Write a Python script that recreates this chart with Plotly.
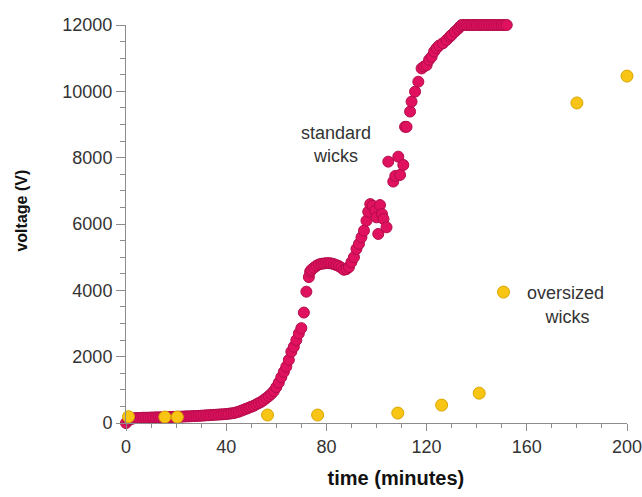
import plotly.graph_objects as go

# standard wicks (time in minutes, voltage in V)
std_time = [0, 1, 2, 3, 4, 5, 6, 7, 8, 9, 10, 11, 12, 13, 14, 15, 16, 17, 18, 19,
            20, 21, 22, 23, 24, 25, 26, 27, 28, 29, 30, 31, 32, 33, 34, 35, 36, 37, 38, 39,
            40, 41, 42, 43, 44, 45, 46, 47, 48, 49, 50, 51, 52, 53, 54, 55, 56, 57, 58, 59,
            60, 61, 62, 63, 64, 65, 66, 67, 68, 69, 70, 71, 72, 73, 73.5, 74, 75, 76, 77, 78,
            79, 80, 81, 82, 83, 84, 85, 86, 87, 88, 89, 90, 91, 92, 93, 94, 95, 96, 96.7, 97.5,
            98.5, 99.5, 100, 100.7, 101.4, 102.2, 102.8, 104, 104.7, 106.7, 107.5, 108.7, 109.4, 110.7,
            111.4, 112, 113.4, 114, 115.4, 116.7, 118, 119, 120, 121, 122, 123, 124, 125, 126.5,
            128, 129.3, 130, 131.3, 132.5, 133.3, 134, 135, 136, 137, 138, 139, 140, 141, 142,
            143, 144, 145, 146, 147, 148, 149, 150, 151, 152]
std_voltage = [0, 80, 120, 140, 150, 150, 155, 160, 160, 160, 165, 165, 170, 170, 170, 175, 175, 180, 180, 185,
               185, 190, 190, 195, 200, 200, 205, 210, 210, 215, 220, 225, 230, 235, 240, 245, 250, 255, 260, 265,
               270, 280, 290, 300, 320, 340, 370, 400, 430, 460, 490, 520, 560, 600, 640, 690, 750, 810, 880, 960,
               1080, 1220, 1380, 1540, 1700, 1900, 2150, 2300, 2500, 2700, 2860, 3330, 3960, 4400, 4560, 4620, 4680, 4740, 4780, 4800,
               4810, 4820, 4820, 4810, 4790, 4760, 4730, 4680, 4620, 4640, 4700, 4850, 5000, 5250, 5400, 5600, 5800, 6100, 6370, 6600,
               6550, 6400, 6200, 5700, 6570, 6300, 6150, 5900, 7880, 7280, 7450, 8030, 7480, 7780,
               8930, 8930, 9390, 9690, 9990, 10290, 10690, 10750, 10790, 10950, 11040, 11200, 11300, 11380, 11450,
               11550, 11650, 11700, 11800, 11880, 11950, 12000, 12000, 12000, 12000, 12000, 12000, 12000, 12000, 12000,
               12000, 12000, 12000, 12000, 12000, 12000, 12000, 12000, 12000, 12000]

# oversized wicks
over_time = [1, 15.5, 20.5, 56.5, 76.5, 108.5, 126, 141, 180, 200]
over_voltage = [190, 180, 180, 240, 240, 300, 540, 900, 9650, 10460]

x_ticks = [0, 40, 80, 120, 160, 200]
y_ticks = [0, 2000, 4000, 6000, 8000, 10000, 12000]

FONT = "Liberation Sans, Arial, sans-serif"
NB = "\u00a0"

fig = go.Figure()
fig.add_trace(go.Scatter(
    x=std_time, y=std_voltage, mode="markers", name="standard wicks",
    showlegend=False, cliponaxis=False,
    marker=dict(size=11, color="#E0115F", line=dict(color="#B30C4A", width=1)),
))
fig.add_trace(go.Scatter(
    x=over_time, y=over_voltage, mode="markers",
    name="oversized<br>" + NB * 3 + "\u2009wicks",
    showlegend=True, cliponaxis=False,
    marker=dict(size=12, color="#F8C515", line=dict(color="#D9A500", width=1)),
))

axis_common = dict(
    showgrid=False, zeroline=False, showline=True, linecolor="#8c8c8c", linewidth=1,
    ticks="outside", tickcolor="#8c8c8c", tickwidth=1, tickformat="d",
    ticklabeloverflow="allow",
    tickfont=dict(family=FONT, size=18, color="#333333"),
)

fig.update_xaxes(
    range=[0, 200], tickvals=x_ticks, ticklen=7, **axis_common,
    minor=dict(dtick=10, ticks="outside", ticklen=4, tickcolor="#8c8c8c"),
    title=dict(text="<b>" + NB * 7 + "time (minutes)</b>",
               font=dict(family=FONT, size=20, color="#111111"), standoff=15),
)
fig.update_yaxes(
    range=[0, 12000], tickvals=y_ticks, ticklen=9, **axis_common,
    minor=dict(dtick=500, ticks="outside", ticklen=5, tickcolor="#8c8c8c"),
    title=dict(text="<b>" + NB * 6 + "voltage (V)</b>",
               font=dict(family=FONT, size=16, color="#111111"), standoff=30),
)

fig.add_annotation(
    x=83.8, y=8412, xref="x", yref="y", text="standard<br>wicks", showarrow=False,
    align="center", xanchor="center", yanchor="middle",
    font=dict(family=FONT, size=18, color="#333333"),
)

fig.update_layout(
    width=642, height=497,
    margin=dict(l=126, r=15, t=25, b=74, autoexpand=False),
    plot_bgcolor="white", paper_bgcolor="white",
    legend=dict(x=0.7066, y=0.3746, xanchor="left", yanchor="top", valign="top",
                itemwidth=37,
                bgcolor="rgba(0,0,0,0)", font=dict(family=FONT, size=18, color="#333333")),
)

fig.write_html("out.html", config={"displayModeBar": False},
               post_script="document.body.style.margin='0';document.body.style.overflow='hidden';")
